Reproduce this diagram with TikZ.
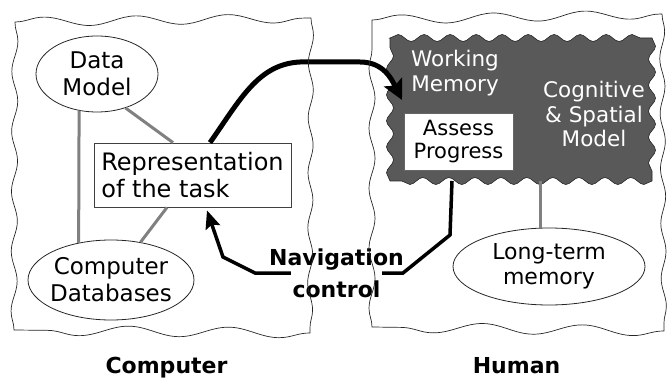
\documentclass[tikz,border=0pt]{standalone}
\usepackage{fontspec}
\setmainfont{DejaVu Sans}
\usetikzlibrary{arrows.meta,decorations.pathmorphing,shapes.geometric}
\begin{document}
\begin{tikzpicture}[x=1pt,y=-1pt,
  oval/.style={draw=black!85,line width=0.8pt,ellipse,inner xsep=-8pt,inner ysep=0pt,align=center,font=\fontsize{23pt}{27pt}\selectfont},
  graylink/.style={draw=black!50,line width=3pt},
  boldarrow/.style={line width=5pt,-{Stealth[length=20pt,width=20pt,inset=4pt]}},
  navarrow/.style={line width=3.5pt,-{Stealth[length=18pt,width=15pt,inset=3pt]}},
  whitetext/.style={text=white,align=center,font=\fontsize{21.5pt}{24.5pt}\selectfont},
  panel/.style={draw=black!85,line width=0.7pt},
  navtext/.style={font=\bfseries\fontsize{22pt}{26pt}\selectfont,anchor=base},
  sidelabel/.style={font=\bfseries\fontsize{22pt}{26pt}\selectfont,anchor=base},
  jag/.style={decoration={snake,segment length=26pt,amplitude=3.5pt}}
]
\useasboundingbox (0,0) rectangle (668,379);

% dark working-memory area
\path[fill=black!65,draw=black!85,line width=0.6pt,jag] (390,38)
  decorate{-- (652,38)} decorate{-- (652,181)} decorate{-- (390,181)} decorate{-- (390,38)} -- cycle;
\coordinate (wmin) at (402,100);
\coordinate (navstart) at (452,181);
\coordinate (cogbot) at (540,181);

% nodes
\node[oval,minimum width=122pt,minimum height=76pt] (dm) at (97,74) {Data\\Model};
\node[draw=black!75,line width=0.8pt,minimum width=197pt,minimum height=64pt,align=left,
  inner xsep=6pt,font=\fontsize{24pt}{27pt}\selectfont] (rep) at (192.5,175) {Representation\\of the task};
\node[oval,minimum width=166pt,minimum height=80pt] (cd) at (111,280) {Computer\\Databases};
\node[oval,minimum width=192pt,minimum height=77pt,font=\fontsize{22pt}{25pt}\selectfont] (ltm) at (549,266.5) {Long-term\\memory};
\node[whitetext] (wmtext) at (455,73) {Working\\Memory};
\node[whitetext] (cog) at (594,114) {Cognitive\\\&~Spatial\\Model};
\node[fill=white,draw=black!60,line width=0.6pt,minimum width=109pt,minimum height=57pt,
  align=center,font=\fontsize{21pt}{22.5pt}\selectfont] (assess) at (458.5,141.5) {Assess\\Progress};

% gray links
\draw[graylink] (dm.244) -- (cd.131);
\draw[graylink] (dm.310) -- ([xshift=-19.5pt]rep.north);
\draw[graylink] ([xshift=-25.5pt]rep.south) -- (cd.52);
\draw[graylink] (cogbot) -- (cogbot |- ltm.north);

% arrows
\draw[boldarrow] ([xshift=17.5pt]rep.north) .. controls (240,100) and (258,64) .. (300,62)
  -- (360,62) .. controls (384,62) and (392,80) .. (wmin);
\draw[navarrow] (navstart) -- (450,235) -- (403,273) -- (255,273) -- (223,257)
  -- ([xshift=14.5pt,yshift=-3pt]rep.south);

% navigation label
\node[navtext,fill=white,inner xsep=2pt,inner ysep=10pt] (navB) at (336.5,297) {control};
\node[navtext,inner sep=0pt] (navA) at (336.5,265) {Navigation};

% side labels
\node[sidelabel] (lblc) at (166.5,373) {Computer};
\node[sidelabel] (lblh) at (516.5,373) {Human};

% panels
\draw[panel] (15,22)
  decorate[decoration={snake,amplitude=4.5pt,segment length=92pt}]{-- (311,18)}
  decorate[decoration={snake,amplitude=2.5pt,segment length=55pt}]{-- (310,333)}
  decorate[decoration={snake,amplitude=5pt,segment length=100pt}]{-- (14,330)}
  decorate[decoration={snake,amplitude=3pt,segment length=60pt}]{-- (15,22)};
\draw[panel] (372,20)
  decorate[decoration={snake,amplitude=4.5pt,segment length=92pt}]{-- (662,14)}
  decorate[decoration={snake,amplitude=2.5pt,segment length=55pt}]{-- (664,331)}
  decorate[decoration={snake,amplitude=5pt,segment length=100pt}]{-- (372,327)}
  decorate[decoration={snake,amplitude=3pt,segment length=60pt}]{-- (372,20)};
\end{tikzpicture}
\end{document}
